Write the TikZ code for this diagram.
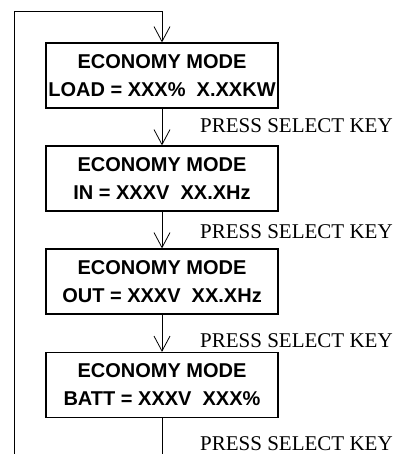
\documentclass[tikz,border=0pt]{standalone}
\usepackage{fontspec}
\setmainfont{Liberation Serif}
\setsansfont{Liberation Sans}
\usetikzlibrary{arrows.meta}

\tikzset{
  lcd/.style={draw, line width=1.2pt, minimum width=232pt, minimum height=65pt,
    inner sep=0pt, align=center, font=\sffamily\bfseries\fontsize{20}{28}\selectfont},
  keylbl/.style={anchor=base west, inner sep=0pt, font=\fontsize{21}{24}\selectfont},
  flow/.style={line width=0.8pt, -{Straight Barb[length=15pt,width=16pt]}}
}

\begin{document}
\begin{tikzpicture}[x=1pt,y=-1pt]
\useasboundingbox (0,0) rectangle (400,454);
% display screens
\node [lcd] (load) at (162,75.5) {ECONOMY MODE\\LOAD = XXX\%\ \ X.XXKW};
\node [lcd] (in) at (162,178.5) {ECONOMY MODE\\IN = XXXV\ \ XX.XHz};
\node [lcd] (out) at (162,281.5) {ECONOMY MODE\\OUT = XXXV\ \ XX.XHz};
\node [lcd] (batt) at (162,385) {ECONOMY MODE\\BATT = XXXV\ \ XXX\%};
% key labels
\node [keylbl] (k1) at (200,133) {PRESS SELECT KEY};
\node [keylbl] (k2) at (200,238) {PRESS SELECT KEY};
\node [keylbl] (k3) at (200,347) {PRESS SELECT KEY};
\node [keylbl] (k4) at (200,450) {PRESS SELECT KEY};
% loop back
\coordinate (bot) at (162,454);
\coordinate (lb) at (14,454);
\coordinate (lt) at (14,11);
\coordinate (rt) at (162,11);
\draw [flow] (lb) -- (lt) -- (rt) -- (load);
\draw [flow] (load) -- (in);
\draw [flow] (in) -- (out);
\draw [flow] (out) -- (batt);
\draw [line width=0.8pt] (batt) -- (bot);
\end{tikzpicture}
\end{document}
